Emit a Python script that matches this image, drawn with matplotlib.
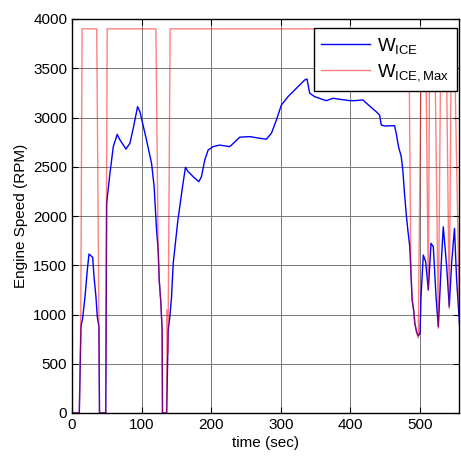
import matplotlib
matplotlib.use("Agg")
import matplotlib.pyplot as plt

plt.rcParams['font.family'] = ['Liberation Sans', 'DejaVu Sans']
plt.rcParams['mathtext.fontset'] = 'custom'
plt.rcParams['mathtext.rm'] = 'Liberation Sans'
plt.rcParams['mathtext.it'] = 'Liberation Sans'

# W_ICE (blue) trace
t_ice = [0, 10.5, 12.9, 15.3, 18.7, 22, 24.4, 29.7, 31.6, 34.4, 36.3, 38.7, 39.5,
         48.5, 49.8, 54.5, 59.3, 65, 68.9, 77.5, 83.2, 88, 94.2, 97.6, 107, 114.3,
         118, 121.5, 123.8, 125.3, 127.7, 129.5, 130, 136, 138.2, 140.6, 143, 145.4,
         152, 158.8, 163, 166.9, 174, 182.2, 186, 190.8, 195.6, 202.7, 212,
         226.7, 241, 255.4, 269.7, 279, 286.5, 293.7, 300.8, 310.4, 322.4, 334.3,
         337.6, 341.5, 348.6, 358, 365.4, 374.9, 384.5, 398.9, 406, 418, 427.5,
         437, 441.9, 444.3, 449, 463.4, 465.8, 469.1, 473, 475.3, 477.7, 480.1,
         482.5, 485.3, 486.8, 488.7, 491.1, 492.5, 495, 497.4, 500, 501.4, 504.7,
         508.1, 511.9, 515.8, 519.1, 523, 526.3, 531, 533.4, 538.3, 542, 545.4,
         549.5, 552.6, 557]
v_ice = [0, 0, 876, 964, 1181, 1452, 1614, 1580, 1384, 1181, 978, 876, 0,
         0, 2132, 2433, 2704, 2829, 2772, 2680, 2738, 2890, 3110, 3059, 2772, 2535,
         2298, 1858, 1655, 1350, 1114, 843, 0, 0, 843, 978, 1181, 1520,
         1950, 2298, 2494, 2450, 2400, 2348, 2400, 2570, 2670, 2704, 2720,
         2704, 2800, 2806, 2789, 2779, 2840, 2975, 3127, 3212, 3297, 3381,
         3391, 3246, 3212, 3188, 3171, 3195, 3185, 3171, 3171, 3178, 3117,
         3059, 3025, 2924, 2914, 2917, 2840, 2704, 2603, 2467, 2230, 2027,
         1858, 1689, 1452, 1147, 1029, 910, 825, 782, 808, 1181, 1604,
         1536, 1249, 1723, 1689, 1181, 876, 1590, 1890, 1486, 1080, 1520,
         1875, 1350, 876]

# W_ICE,Max (red) trace
t_max = [0, 10.5, 12.5, 14.5, 35.5, 38.7, 39.5, 48.3, 50.6, 120.5, 123.8, 125.3,
         127.7, 129.5, 130, 135.8, 136.8, 137.5, 138.3, 141, 484, 486.8, 488.7,
         491.1, 492.5, 495, 497.4, 502, 508, 511.9, 514, 521, 526.3, 530, 537.5,
         542, 545, 549, 557]
v_max = [0, 0, 880, 3900, 3900, 876, 0, 0, 3900, 3900, 1655, 1350,
         1114, 843, 0, 0, 1046, 600, 1046, 3900, 3900, 1452, 1147,
         1029, 910, 825, 760, 3900, 3900, 1249, 3900, 3900, 860, 3900, 3900,
         1060, 3900, 3900, 850]

x_ticks = [0, 100, 200, 300, 400, 500]
y_ticks = [0, 500, 1000, 1500, 2000, 2500, 3000, 3500, 4000]

fig = plt.figure(figsize=(4.61, 4.59), dpi=100)
ax = fig.add_axes([72/461, 46/459, 387/461, 394/459])

ax.plot(t_ice, v_ice, color='#0000ff', lw=1.0, label=r'$\mathrm{W}_{\mathrm{ICE}}$')
ax.plot(t_max, v_max, color='#ff0000', lw=1.0, alpha=0.5, label=r'$\mathrm{W}_{\mathrm{ICE,Max}}$')

ax.set_xlim(0, 556)
ax.set_ylim(0, 4000)
ax.set_xticks(x_ticks)
ax.set_yticks(y_ticks)
ax.grid(True, color='#777777', lw=0.7, ls='-')
ax.set_axisbelow(True)
ax.tick_params(direction='in', top=True, right=True, length=4, labelsize=11, width=0.8)
for s in ax.spines.values():
    s.set_linewidth(1.0)
ax.set_xlabel('time (sec)', fontsize=11, labelpad=3)
ax.set_ylabel('Engine Speed (RPM)', fontsize=11, labelpad=4)

leg = ax.legend(loc='upper right', bbox_to_anchor=(0.995, 0.977), borderaxespad=0,
                fontsize=13.5, fancybox=False, framealpha=1, edgecolor='black',
                handlelength=2.6, handletextpad=0.4, labelspacing=0.35,
                borderpad=0.4)
leg.get_frame().set_linewidth(1.0)

fig.savefig('out.png', dpi=100)
